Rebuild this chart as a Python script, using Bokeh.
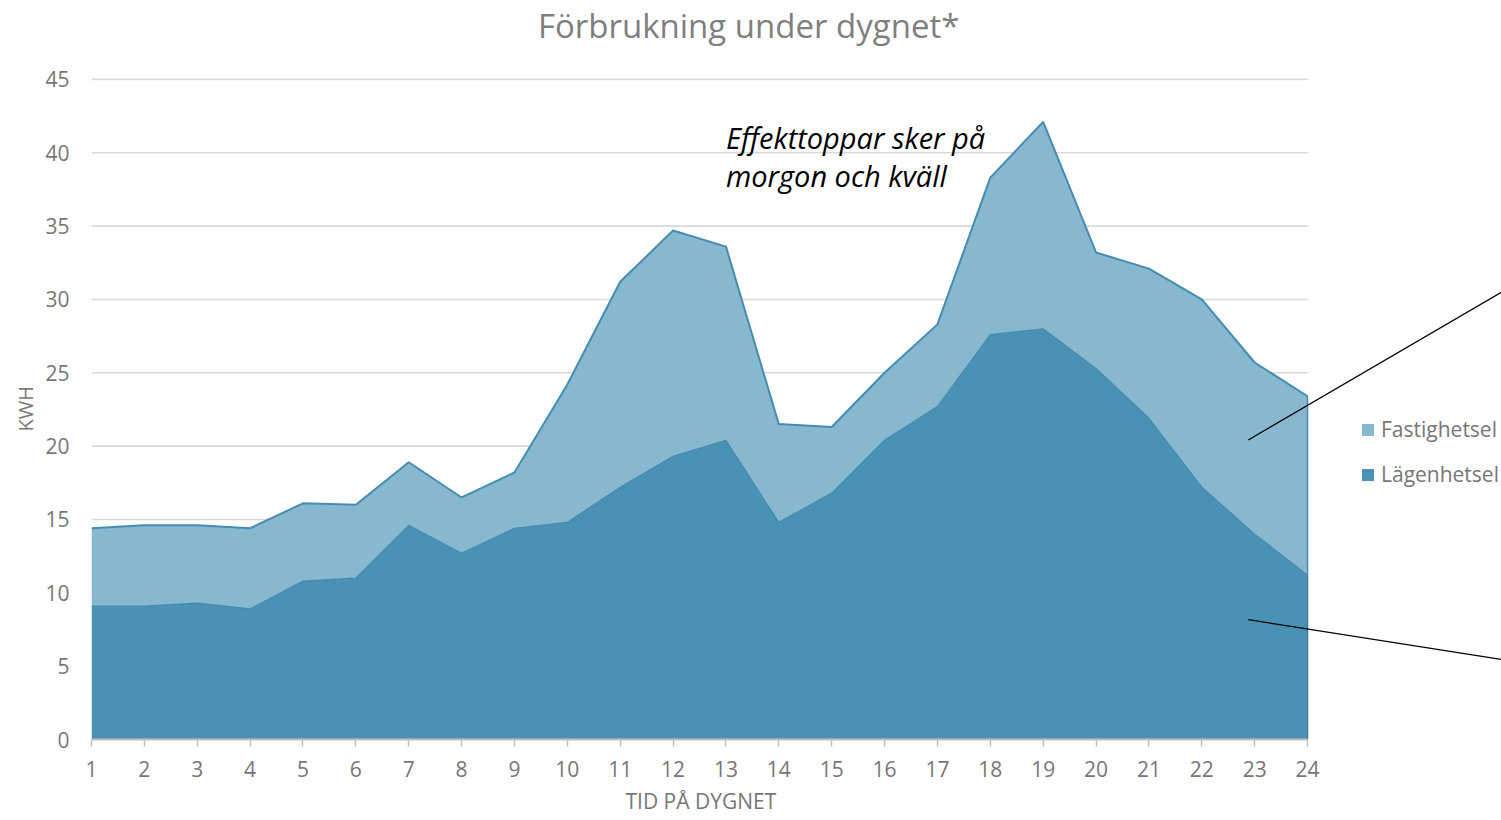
from bokeh.plotting import figure
from bokeh.models import (ColumnDataSource, Legend, LegendItem, Label, FixedTicker,
                          Range1d, Arrow, Title)
from bokeh.embed import file_html
from bokeh.resources import INLINE

hours = list(range(1, 25))
lagenhetsel = [9.1, 9.1, 9.3, 8.9, 10.8, 11.0, 14.6, 12.7, 14.4, 14.8, 17.2, 19.3,
               20.4, 14.8, 16.8, 20.4, 22.7, 27.6, 28.0, 25.3, 21.9, 17.2, 14.0, 11.2]
fastighetsel = [5.3, 5.5, 5.3, 5.5, 5.3, 5.0, 4.3, 3.8, 3.8, 9.4, 14.0, 15.4,
                13.2, 6.7, 4.5, 4.6, 5.6, 10.7, 14.1, 7.9, 10.2, 12.8, 11.7, 12.2]
y_ticks = [0, 5, 10, 15, 20, 25, 30, 35, 40, 45]
series_names = ["Fastighetsel", "Lägenhetsel"]

FONT = "Open Sans"
LIGHT = "#88b8cf"
DARK = "#4a92b5"
EDGE = "#458cb0"
GRAY = "#777777"

X0, X1 = hours[0], hours[-1]
Y0, Y1 = y_ticks[0], y_ticks[-1]

src = ColumnDataSource(dict(hour=hours, lag=lagenhetsel, fast=fastighetsel))

# the frame spans the whole right/top part of the canvas so that the
# title, legend and callout lines (outside the data area) are not clipped
p = figure(width=1501, height=820, output_backend="svg", toolbar_location=None,
           x_range=Range1d(1, 27.669), y_range=Range1d(0, 50.378),
           min_border_left=91, min_border_right=0, min_border_top=0,
           min_border_bottom=80)
p.outline_line_color = None
p.background_fill_color = "white"
p.border_fill_color = "white"

# horizontal gridlines limited to the data area
grid_src = ColumnDataSource(dict(y=y_ticks[1:], x0=[X0] * (len(y_ticks) - 1),
                                 x1=[X1] * (len(y_ticks) - 1)))
p.segment(x0="x0", x1="x1", y0="y", y1="y", source=grid_src,
          line_color="#d9d9d9", line_width=1.6)
p.xgrid.grid_line_color = None
p.ygrid.grid_line_color = None

areas = p.varea_stack(stackers=["lag", "fast"], x="hour", color=[DARK, LIGHT],
                      source=src)
p.vline_stack(stackers=["lag", "fast"], x="hour", color=["#4289ad", EDGE],
              line_width=[1.2, 2], source=src)

# right-hand edges of the two areas
last_lag = lagenhetsel[-1]
last_tot = lagenhetsel[-1] + fastighetsel[-1]
p.segment(x0=[X1], x1=[X1], y0=[last_lag], y1=[last_tot], line_color=EDGE,
          line_width=1.5)
p.segment(x0=[X1], x1=[X1], y0=[0], y1=[last_lag], line_color="#3d7c9c",
          line_width=1.5)

legend = Legend(items=[LegendItem(label=series_names[0], renderers=[areas[1]]),
                       LegendItem(label=series_names[1], renderers=[areas[0]])],
                location=(1269, 251))
legend.border_line_color = None
legend.background_fill_alpha = 0
legend.label_text_font = FONT
legend.label_text_font_size = "21px"
legend.label_text_color = GRAY
legend.glyph_width = 15
legend.glyph_height = 15
legend.spacing = 17
legend.padding = 0
legend.margin = 0
legend.label_standoff = 6
p.add_layout(legend)

# axes
p.xaxis.ticker = FixedTicker(ticks=hours)
p.yaxis.ticker = FixedTicker(ticks=y_ticks)
p.xaxis.bounds = (X0, X1)
p.yaxis.bounds = (Y0, Y1)

p.xaxis.axis_line_color = "#bfbfbf"
p.xaxis.axis_line_width = 2
p.xaxis.major_tick_line_color = "#bfbfbf"
p.xaxis.major_tick_line_width = 1.5
p.xaxis.major_tick_out = 7
p.xaxis.major_tick_in = 0
p.xaxis.minor_tick_line_color = None
p.xaxis.major_label_standoff = 14

p.yaxis.axis_line_color = None
p.yaxis.major_tick_line_color = None
p.yaxis.major_tick_out = 0
p.yaxis.major_tick_in = 0
p.yaxis.minor_tick_line_color = None
p.yaxis.minor_tick_out = 0
p.yaxis.major_label_standoff = 22

for ax in (p.xaxis[0], p.yaxis[0]):
    ax.major_label_text_font = FONT
    ax.major_label_text_font_size = "21px"
    ax.major_label_text_color = GRAY

# axis titles, placed under / beside the data area (not the extended frame)
p.add_layout(Title(text="TID PÅ DYGNET", align="left", offset=534, standoff=11,
                   text_font=FONT, text_font_size="21px", text_font_style="normal",
                   text_color=GRAY), "below")
p.add_layout(Title(text="KWH", align="left", offset=308, standoff=8,
                   text_font=FONT, text_font_size="20px", text_font_style="normal",
                   text_color=GRAY), "left")

# chart title
p.add_layout(Label(x=13.43, y=48.7, text="Förbrukning under dygnet*",
                   text_align="center", text_baseline="middle",
                   text_font=FONT, text_font_size="33px", text_color="#7f7f7f"))

# annotation
p.add_layout(Label(x=13.0, y=41.05, text="Effekttoppar sker på", text_align="left",
                   text_baseline="middle", text_font=FONT,
                   text_font_size="29px", text_font_style="italic", text_color="black"))
p.add_layout(Label(x=13.0, y=38.45, text="morgon och kväll", text_align="left",
                   text_baseline="middle", text_font=FONT,
                   text_font_size="29px", text_font_style="italic", text_color="black"))

p.add_layout(Arrow(end=None, x_start=22.88, y_start=20.42, x_end=27.67, y_end=30.5,
                   line_color="black", line_width=1.3))
p.add_layout(Arrow(end=None, x_start=22.88, y_start=8.17, x_end=27.67, y_end=5.45,
                   line_color="black", line_width=1.3))

open("out.html", "w").write(file_html(p, INLINE))
